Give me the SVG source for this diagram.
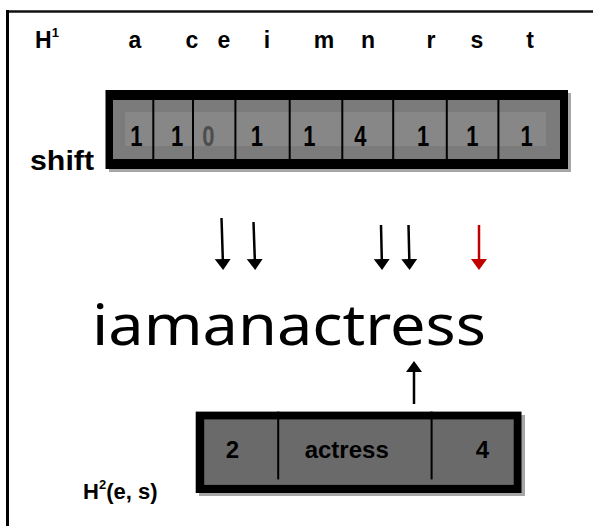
<svg xmlns="http://www.w3.org/2000/svg" width="593" height="526" viewBox="0 0 593 526">
  <defs>
    <!-- arrowhead: triangle starting at the line end, pointing along the line -->
    <marker id="head" markerUnits="userSpaceOnUse" markerWidth="11" markerHeight="16" refX="0" refY="8" orient="auto" viewBox="0 0 11 16">
      <path d="M0,0 L11,8 L0,16 Z" fill="#000"/>
    </marker>
    <marker id="head-red" markerUnits="userSpaceOnUse" markerWidth="11" markerHeight="16" refX="0" refY="8" orient="auto" viewBox="0 0 11 16">
      <path d="M0,0 L11,8 L0,16 Z" fill="#c00000"/>
    </marker>
  </defs>
  <style>
    .lbl { font-family: "Liberation Sans", Arial, sans-serif; font-weight: bold; fill: #000; }
    .cell { font-family: "Liberation Sans", Arial, sans-serif; font-weight: bold; font-size: 22px; text-anchor: middle; }
    .div { stroke: #000; stroke-width: 2; }
    .arrow { stroke: #000; stroke-width: 2.5; fill: none; }
  </style>

  <rect width="593" height="526" fill="#fff"/>

  <!-- page frame: top and left rule -->
  <line x1="7" y1="11.5" x2="593" y2="11.5" stroke="#111" stroke-width="2.5"/>
  <line x1="7.5" y1="10" x2="7.5" y2="526" stroke="#000" stroke-width="3"/>

  <!-- header row -->
  <g id="header">
    <text class="lbl" x="35" y="48" font-size="23">H<tspan font-size="13" dy="-11">1</tspan></text>
    <g class="lbl" font-size="23" text-anchor="middle">
      <text x="135" y="48">a</text>
      <text x="192" y="48">c</text>
      <text x="224" y="48">e</text>
      <text x="267" y="48">i</text>
      <text x="324" y="48">m</text>
      <text x="368" y="48">n</text>
      <text x="431" y="48">r</text>
      <text x="477" y="48">s</text>
      <text x="530" y="48">t</text>
    </g>
  </g>

  <!-- shift table -->
  <g id="shift">
    <text class="lbl" x="30" y="170" font-size="28" textLength="64" lengthAdjust="spacingAndGlyphs">shift</text>
    <rect x="109" y="93" width="462" height="79" fill="#a6a6a6"/>
    <rect x="105.5" y="90" width="462.5" height="79" fill="#000"/>
    <rect x="113" y="100" width="447" height="59" fill="#7b7b7b"/>
    <rect x="125" y="112" width="421" height="34" fill="#878787"/>
    <g class="div">
      <line x1="153.3" y1="100" x2="153.3" y2="159"/>
      <line x1="193" y1="100" x2="193" y2="159"/>
      <line x1="235.4" y1="100" x2="235.4" y2="159"/>
      <line x1="289.7" y1="100" x2="289.7" y2="159"/>
      <line x1="342.3" y1="100" x2="342.3" y2="159"/>
      <line x1="393.2" y1="100" x2="393.2" y2="159"/>
      <line x1="446.8" y1="100" x2="446.8" y2="159"/>
      <line x1="498.4" y1="100" x2="498.4" y2="159"/>
    </g>
    <g class="cell">
      <text transform="translate(136.3 146) scale(1 1.35)">1</text>
      <text transform="translate(177 146) scale(1 1.35)">1</text>
      <text transform="translate(208.3 146) scale(1 1.35)" fill="#4d4d4d">0</text>
      <text transform="translate(256.8 146) scale(1 1.35)">1</text>
      <text transform="translate(309.4 146) scale(1 1.35)">1</text>
      <text transform="translate(360.3 146) scale(1 1.35)">4</text>
      <text transform="translate(423 146) scale(1 1.35)">1</text>
      <text transform="translate(472.3 146) scale(1 1.35)">1</text>
      <text transform="translate(526.6 146) scale(1 1.35)">1</text>
    </g>
  </g>

  <!-- main string -->
  <g id="string">
    <text x="92" y="345" font-family="'Noto Sans', 'Open Sans', sans-serif" font-size="56" textLength="394" lengthAdjust="spacingAndGlyphs" fill="#000">iamanactress</text>
  </g>

  <!-- H2 table -->
  <g id="h2">
    <text class="lbl" x="83" y="499" font-size="22">H<tspan font-size="13" dy="-10">2</tspan><tspan dy="10">(e, s)</tspan></text>
    <rect x="199" y="415" width="326" height="81" fill="#a6a6a6"/>
    <rect x="195.7" y="411.6" width="325.8" height="81.4" fill="#000"/>
    <rect x="204.2" y="419.4" width="309.5" height="65.5" fill="#6a6a6a"/>
    <g class="div">
      <line x1="278.2" y1="411.6" x2="278.2" y2="479.4"/>
      <line x1="431.6" y1="411.6" x2="431.6" y2="479.4"/>
    </g>
    <g class="lbl" font-size="24" text-anchor="middle">
      <text x="232.4" y="458.4">2</text>
      <text x="346.7" y="458.4">actress</text>
      <text x="482.5" y="458.4">4</text>
    </g>
  </g>

  <!-- connectors -->
  <g id="connectors">
    <line class="arrow" x1="221.5" y1="218" x2="222.8" y2="259" marker-end="url(#head)"/>
    <line class="arrow" x1="253.5" y1="222" x2="254.8" y2="259" marker-end="url(#head)"/>
    <line class="arrow" x1="381" y1="225" x2="381.8" y2="259" marker-end="url(#head)"/>
    <line class="arrow" x1="408.5" y1="225" x2="409.3" y2="259" marker-end="url(#head)"/>
    <line x1="479" y1="225" x2="479" y2="259" stroke="#c00000" stroke-width="2.5" marker-end="url(#head-red)"/>
    <line class="arrow" x1="414" y1="404" x2="414" y2="372" marker-end="url(#head)"/>
  </g>
</svg>
